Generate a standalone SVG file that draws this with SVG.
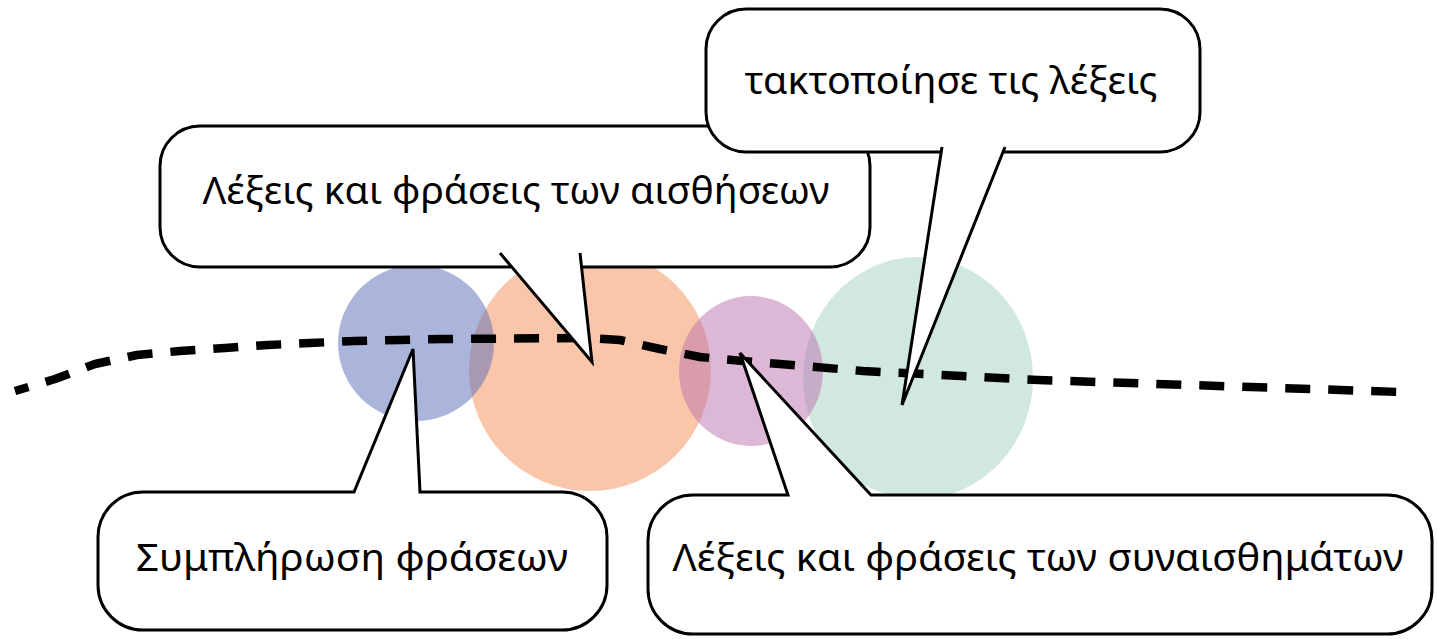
<svg xmlns="http://www.w3.org/2000/svg" width="1437" height="639" viewBox="0 0 1437 639">
<style>
.bub{fill:#ffffff;stroke:none}
.out{fill:none;stroke:#000;stroke-width:3;stroke-linejoin:miter}
.lbl{font-family:"Noto Sans","Open Sans","DejaVu Sans",sans-serif;font-size:38px;fill:#000;text-anchor:middle}
.c{opacity:0.5}
</style>
<rect width="1437" height="639" fill="#ffffff"/>
<g id="circles">
<circle class="c" cx="590" cy="370" r="121" fill="#f38d53"/>
<circle class="c" cx="416" cy="343" r="78" fill="#5769b7"/>
<ellipse class="c" cx="918" cy="378" rx="115" ry="121" fill="#a3d1c1"/>
<ellipse class="c" cx="751" cy="371" rx="72" ry="75" fill="#bb6fad"/>
</g>
<g id="connectors">
<polyline points="15,391 55,379 95,364 137,355 180,351 225,348 268,345 310,343 355,341 400,340 442,339 590,338 620,340 660,349 700,357 732,360 780,364 863,371 1038,380 1400,392" fill="none" stroke="#000" stroke-width="8.5" stroke-dasharray="25 18" stroke-dashoffset="11" stroke-linejoin="round"/>
</g>
<g id="node-c">
<path class="bub" d="M143 492 H354 L413 349 L420 492 H562 A45 45 0 0 1 607 537 V585 A45 45 0 0 1 562 630 H143 A45 45 0 0 1 98 585 V537 A45 45 0 0 1 143 492 Z"/>
<path class="out" d="M143 492 H354 L413 349 L420 492 H562 A45 45 0 0 1 607 537 V585 A45 45 0 0 1 562 630 H143 A45 45 0 0 1 98 585 V537 A45 45 0 0 1 143 492 Z"/>
<text class="lbl" x="352" y="571" textLength="432" lengthAdjust="spacingAndGlyphs">Συμπλήρωση φράσεων</text>
</g>
<g id="node-d">
<path class="bub" d="M693 495 H788 L740 353 L871 495 H1387 A45 45 0 0 1 1432 540 V589 A45 45 0 0 1 1387 634 H693 A45 45 0 0 1 648 589 V540 A45 45 0 0 1 693 495 Z"/>
<path class="out" d="M693 495 H788 L740 353 L871 495 H1387 A45 45 0 0 1 1432 540 V589 A45 45 0 0 1 1387 634 H693 A45 45 0 0 1 648 589 V540 A45 45 0 0 1 693 495 Z"/>
<text class="lbl" x="1038" y="571" textLength="731" lengthAdjust="spacingAndGlyphs">Λέξεις και φράσεις των συναισθημάτων</text>
</g>
<g id="node-a">
<path class="bub" d="M200 126 H830 A40 40 0 0 1 870 166 V227 A40 40 0 0 1 830 267 H581.5 L592 362 L512 267 H200 A40 40 0 0 1 160 227 V166 A40 40 0 0 1 200 126 Z"/>
<path class="out" d="M512 267 H200 A40 40 0 0 1 160 227 V166 A40 40 0 0 1 200 126 H830 A40 40 0 0 1 870 166 V227 A40 40 0 0 1 830 267 H581.5 M500 253 L592 362 L580 253"/>
<text class="lbl" x="516" y="204" textLength="627" lengthAdjust="spacingAndGlyphs">Λέξεις και φράσεις των αισθήσεων</text>
</g>
<g id="node-b">
<path class="bub" d="M746 9 H1160 A40 40 0 0 1 1200 49 V112 A40 40 0 0 1 1160 152 H1003 L902 405 L941.2 152 H746 A40 40 0 0 1 706 112 V49 A40 40 0 0 1 746 9 Z"/>
<path class="out" d="M941.2 152 H746 A40 40 0 0 1 706 112 V49 A40 40 0 0 1 746 9 H1160 A40 40 0 0 1 1200 49 V112 A40 40 0 0 1 1160 152 H1003 M1005 147 L902 405 L942 147"/>
<text class="lbl" x="951" y="94" textLength="413" lengthAdjust="spacingAndGlyphs">τακτοποίησε τις λέξεις</text>
</g>
</svg>
